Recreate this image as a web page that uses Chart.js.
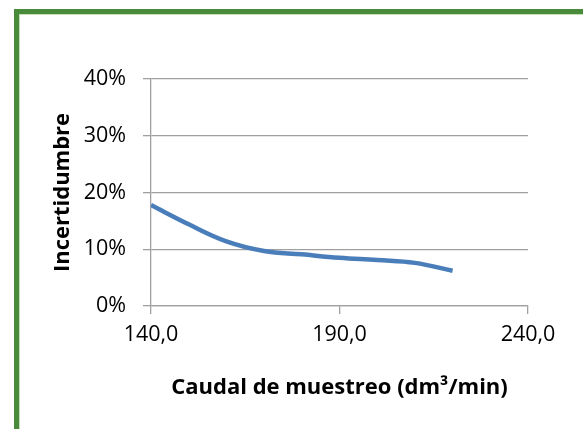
<!DOCTYPE html>
<html>
<head>
<meta charset="utf-8">
<script src="https://cdn.jsdelivr.net/npm/chart.js@4/dist/chart.umd.min.js"></script>
<style>
  html, body { margin: 0; padding: 0; background: #fff; overflow: hidden; }
  #wrap { position: relative; width: 583px; height: 429px; }
  #frame {
    position: absolute; left: 14px; top: 9px; width: 600px; height: 450px;
    border-left: 5px solid #4a8a3b; border-top: 5px solid #4a8a3b;
    box-shadow: inset 1px 1px 0 #c4e0b6;
  }
  canvas { position: absolute; left: 0; top: 0; }
</style>
</head>
<body>
<div id="wrap">
  <div id="frame"></div>
  <canvas id="incChart" width="583" height="429"></canvas>
</div>
<script>
// Caudal de muestreo (dm3/min) vs incertidumbre
const caudal = [140, 150, 160, 170, 180, 190, 200, 210, 220];
const incertidumbre = [0.178, 0.144, 0.114, 0.097, 0.091, 0.085, 0.081, 0.076, 0.062];
const xTicks = { min: 140, max: 240, step: 50 };
const yTicks = { min: 0, max: 0.4, step: 0.1 };

const FONT = '"Open Sans", sans-serif';
const GRID = '#a0a0a0';

new Chart(document.getElementById('incChart'), {
    type: 'line',
    data: {
        datasets: [{
            data: caudal.map((x, i) => ({ x: x, y: incertidumbre[i] })),
            borderColor: '#4a7ebb',
            borderWidth: 4.5,
            pointRadius: 0,
            tension: 0.4,
            fill: false
        }]
    },
    options: {
        responsive: false,
        animation: false,
        layout: { padding: { left: 50, top: 79, right: 55, bottom: 28 } },
        plugins: { legend: { display: false }, tooltip: { enabled: false } },
        scales: {
            x: {
                type: 'linear',
                min: xTicks.min,
                max: xTicks.max,
                afterFit: s => { s.height = 95; },
                ticks: {
                    stepSize: xTicks.step,
                    padding: 8,
                    color: '#000',
                    font: { family: FONT, size: 21.5 },
                    callback: v => v.toFixed(1).replace('.', ',')
                },
                grid: { drawOnChartArea: false, drawTicks: true, tickLength: 8, color: GRID, lineWidth: 1.3 },
                border: { display: true, color: GRID, width: 1.3 },
                title: {
                    display: true,
                    text: 'Caudal de muestreo (dm³/min)',
                    color: '#000',
                    padding: 0,
                    font: { family: FONT, size: 22, weight: 'bold' }
                }
            },
            y: {
                min: yTicks.min,
                max: yTicks.max,
                afterFit: s => { s.width = 101; },
                ticks: {
                    stepSize: yTicks.step,
                    padding: 17,
                    color: '#000',
                    font: { family: FONT, size: 21.5 },
                    callback: v => Math.round(v * 100) + '%'
                },
                grid: { drawTicks: true, tickLength: 8, color: GRID, lineWidth: 1.3 },
                border: { display: true, color: GRID, width: 1.3 },
                title: {
                    display: true,
                    text: 'Incertidumbre',
                    color: '#000',
                    padding: 0,
                    font: { family: FONT, size: 22, weight: 'bold' }
                }
            }
        }
    }
});
</script>
</body>
</html>
